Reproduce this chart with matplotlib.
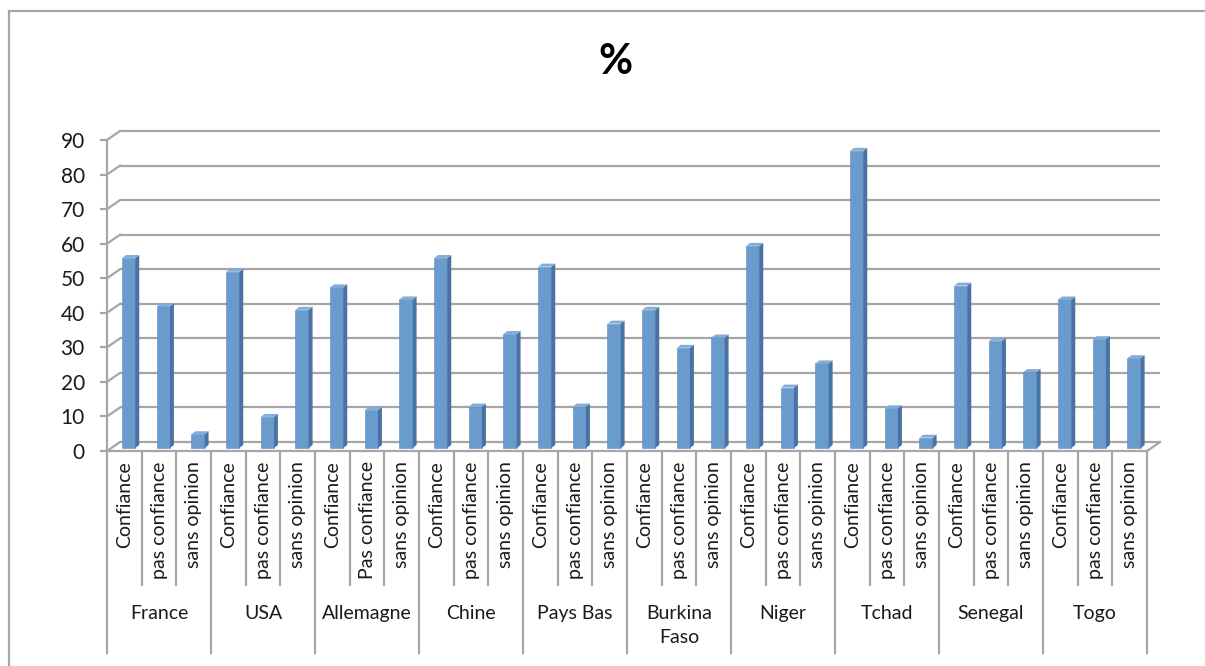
import matplotlib.pyplot as plt
from matplotlib.patches import Polygon
from matplotlib.lines import Line2D
import numpy as np

plt.rcParams['font.family'] = ['Lato', 'DejaVu Sans']

# --- data ---
countries = ["France", "USA", "Allemagne", "Chine", "Pays Bas",
             "Burkina\nFaso", "Niger", "Tchad", "Senegal", "Togo"]
sub_labels = ["Confiance", "pas confiance", "sans opinion"]
sub_labels_allemagne = ["Confiance", "Pas confiance", "sans opinion"]
confiance = [55, 51, 46.5, 55, 52.5, 40, 58.5, 86, 47, 43]
pas_confiance = [41, 9, 11, 12, 12, 29, 17.5, 11.5, 31, 31.5]
sans_opinion = [4, 40, 43, 33, 36, 32, 24.5, 3, 22, 26]

values = []
labels = []
for i, c in enumerate(countries):
    values += [confiance[i], pas_confiance[i], sans_opinion[i]]
    labels += sub_labels_allemagne if c == "Allemagne" else sub_labels
values = np.array(values)
n = len(values)

grey = "#a6a6a6"
front_col = "#6a9bcd"
side_col = "#4a73a3"
top_col = "#82acd9"

# 3D-ish offsets (data units)
dx, dy = 0.375, 2.6          # depth of the floor / walls
bdx, bdy = 0.125, 0.87       # where the bar front sits in depth
sdx, sdy = 0.115, 0.85       # bar side/top depth
bw = 0.38

fig = plt.figure(figsize=(12.05, 6.66), dpi=100)
ax = fig.add_axes([0.0888, 0.3228, 0.8631, 0.4670])
ax.set_xlim(0, n)
ax.set_ylim(0, 90)

# back wall gridlines + left wall diagonals
for v in range(0, 91, 10):
    ax.plot([dx, n + dx], [v + dy, v + dy], color=grey, lw=1.6,
            clip_on=False, zorder=1, solid_capstyle="butt")
    ax.plot([0, dx], [v, v + dy], color=grey, lw=1.6, clip_on=False, zorder=1)
# floor right edge
ax.plot([n, n + dx], [0, dy], color=grey, lw=1.6, clip_on=False, zorder=1)

# bars (front face) + side and top faces
x = np.arange(n) + 0.5 + bdx
ax.bar(x, values, width=bw, bottom=bdy, color=front_col, zorder=3,
       edgecolor="#5b8cc0", linewidth=0.4)
for xi, v in zip(x, values):
    x0, x1 = xi - bw / 2, xi + bw / 2
    top = v + bdy
    ax.add_patch(Polygon([(x1, bdy), (x1 + sdx, bdy + sdy), (x1 + sdx, top + sdy), (x1, top)],
                         closed=True, facecolor=side_col, edgecolor="none", zorder=3))
    ax.add_patch(Polygon([(x0, top), (x1, top), (x1 + sdx, top + sdy), (x0 + sdx, top + sdy)],
                         closed=True, facecolor=top_col, edgecolor="none", zorder=3))

# axes styling
for s in ["top", "right"]:
    ax.spines[s].set_visible(False)
for s in ["left", "bottom"]:
    ax.spines[s].set_color(grey)
    ax.spines[s].set_linewidth(1.6)
    ax.spines[s].set_zorder(4)
ax.set_yticks(range(0, 91, 10))
ax.tick_params(axis="y", length=5, width=1.6, color=grey, pad=11,
               labelsize=15, labelcolor="#1a1a1a")
ax.set_xticks([])

# category axis: separators and labels
xt = ax.get_xaxis_transform()
for k in range(n + 1):
    if k % 3 == 0:
        ax.plot([k, k], [0, -0.65], color=grey, lw=1.6, transform=xt,
                clip_on=False)
    else:
        ax.plot([k, k], [0, -0.431], color=grey, lw=1.6, transform=xt,
                clip_on=False)
for k, lab in enumerate(labels):
    ax.text(k + 0.5, -0.033, lab, rotation=90, ha="center", va="top",
            transform=xt, fontsize=14, color="#1a1a1a")
for g, c in enumerate(countries):
    ax.text(3 * g + 1.5, -0.495, c, ha="center", va="top", transform=xt,
            fontsize=14, color="#1a1a1a", linespacing=1.5)

# title
fig.text(0.5104, 0.907, "%", ha="center", va="center", fontsize=30,
         fontweight="bold", color="black")

# chart-area border (top and left visible)
fig.add_artist(Line2D([8.5 / 1205, 8.5 / 1205], [0, 1 - 11 / 666],
                      color=grey, lw=1.6))
fig.add_artist(Line2D([8.5 / 1205, 1], [1 - 11 / 666, 1 - 11 / 666],
                      color=grey, lw=1.6))

fig.savefig("out.png", dpi=100)
